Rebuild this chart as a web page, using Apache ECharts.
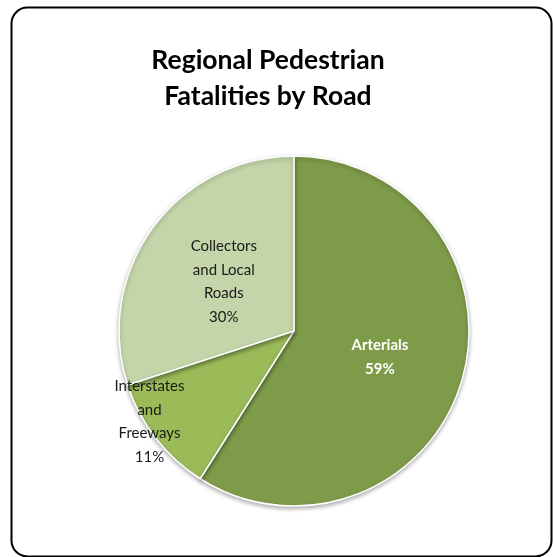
<!DOCTYPE html>
<html>
<head>
<meta charset="utf-8">
<script src="https://cdn.jsdelivr.net/npm/echarts@6/dist/echarts.min.js"></script>
<style>
  html, body { margin: 0; padding: 0; background: #fff; }
  #chart { width: 553px; height: 557px; }
</style>
</head>
<body>
<div id="chart"></div>
<script>
// data
const categories = ['Arterials', 'Interstates\nand\nFreeways', 'Collectors\nand Local\nRoads']
const shares = [59, 11, 30]
const sliceColors = ['#7e9b4a', '#9bbb59', '#c4d5a9']

// label nudges from the default inside spot (Excel "best fit" look)
const labelShift = [[-1, 1], [-73, 35], [3, 4]]

const chart = echarts.init(document.getElementById('chart'))

const option = {
  backgroundColor: '#fff',
  animation: false,
  title: {
    text: 'Regional Pedestrian\nFatalities by Road',
    left: 263,
    top: 37,
    textAlign: 'center',
    textStyle: {
      fontFamily: 'Lato',
      fontWeight: 'bold',
      fontSize: 26.5,
      lineHeight: 36,
      color: '#000'
    }
  },
  graphic: [{
    type: 'rect',
    left: 9,
    top: 5,
    shape: { width: 540, height: 549, r: 16 },
    style: { fill: 'none', stroke: '#000', lineWidth: 2 },
    silent: true
  }],
  series: [{
    type: 'pie',
    center: [294, 331],
    radius: 175,
    startAngle: 90,
    clockwise: true,
    avoidLabelOverlap: false,
    itemStyle: {
      borderColor: '#fff',
      borderWidth: 1.5,
      shadowBlur: 4,
      shadowOffsetY: 2,
      shadowColor: 'rgba(0,0,0,0.3)'
    },
    label: {
      show: true,
      position: 'inside',
      formatter: '{b}\n{c}%',
      fontFamily: 'Lato',
      fontSize: 15,
      lineHeight: 23.5,
      color: '#1a1a1a',
      align: 'center'
    },
    labelLine: { show: false },
    labelLayout: (params) => {
      const s = labelShift[params.dataIndex]
      return { dx: s[0], dy: s[1] }
    },
    emphasis: { disabled: true },
    data: categories.map((name, i) => ({
      name,
      value: shares[i],
      itemStyle: { color: sliceColors[i] },
      label: i === 0 ? { color: '#fff', fontWeight: 'bold', lineHeight: 24.5 } : {}
    }))
  }]
}

chart.setOption(option)
</script>
</body>
</html>
